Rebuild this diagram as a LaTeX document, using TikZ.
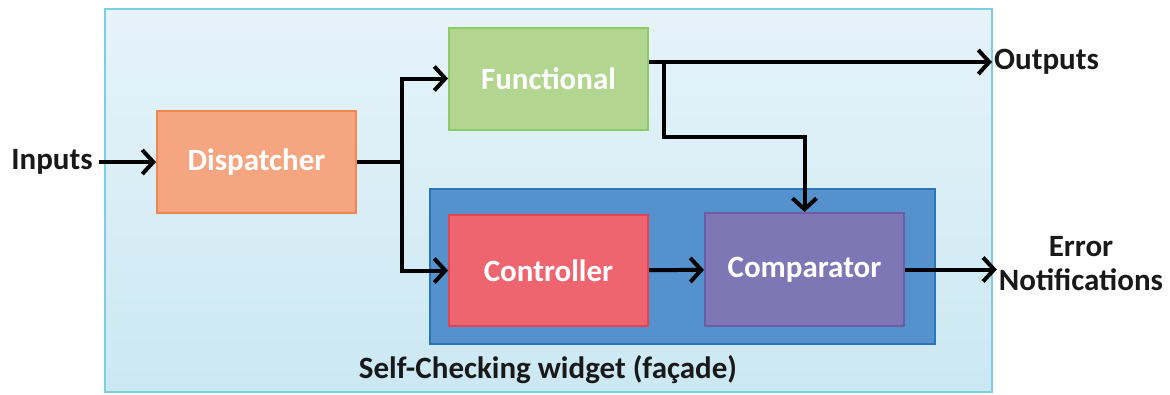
\documentclass[tikz,border=0pt]{standalone}
\usepackage{fontspec}
\setmainfont{Carlito}
\usetikzlibrary{arrows.meta}

\definecolor{frameline}{HTML}{7ACFE0}
\definecolor{frametop}{HTML}{E6F3F9}
\definecolor{framebot}{HTML}{CBE8F3}
\definecolor{checkfill}{HTML}{5591CC}
\definecolor{checkline}{HTML}{2A74B8}
\definecolor{dispfill}{HTML}{F5A680}
\definecolor{displine}{HTML}{F08653}
\definecolor{funcfill}{HTML}{B2D68F}
\definecolor{funcline}{HTML}{8DCB68}
\definecolor{ctrlfill}{HTML}{EE6570}
\definecolor{ctrlline}{HTML}{E14452}
\definecolor{compfill}{HTML}{7F77B5}
\definecolor{compline}{HTML}{6B5CA8}

\tikzset{
  block/.style={rectangle, line width=2pt, text=white, font=\fontsize{31}{36}\selectfont\bfseries,
    minimum width=199pt, minimum height=102pt, inner sep=0pt},
  label/.style={font=\fontsize{31}{36}\selectfont\bfseries, text=black!90, align=center},
  conn/.style={line width=4pt, -{Straight Barb[length=11pt, width=24pt]}},
}

\begin{document}
\begin{tikzpicture}[x=1pt, y=-1pt]
  \useasboundingbox (0,0) rectangle (1170,394);

  \node[rectangle, draw=frameline, line width=1.5pt, top color=frametop, bottom color=framebot,
    minimum width=887pt, minimum height=383pt, inner sep=0pt] (frame) at (548.5,200.5) {};
  \node[rectangle, draw=checkline, fill=checkfill, line width=2pt,
    minimum width=505pt, minimum height=155pt, inner sep=0pt] (checker) at (682.5,266.5) {};

  \node[block, draw=displine, fill=dispfill] (dispatcher) at (256.5,162) {Dispatcher};
  \node[block, draw=funcline, fill=funcfill] (functional) at (548.5,78.5) {Functional};
  \node[block, draw=ctrlline, fill=ctrlfill, minimum height=111pt] (controller) at (548.5,270.5) {Controller};
  \node[block, draw=compline, fill=compfill, minimum height=113pt] (comparator) at (804.5,269.5) {Comparator};

  \node[label, inner sep=6pt] (inputs) at (52,162) {Inputs};
  \node[label, anchor=west, inner sep=2pt] (outputs) at (992,62) {Outputs};
  \node[label, inner sep=2pt] (errors) at (1081,264) {Error\\[-2pt]Notifications};
  \node[label] (caption) at (548,370) {Self-Checking widget (façade)};

  \coordinate (split) at (402,162);
  \coordinate (tap) at (664,62);

  \draw[conn] (inputs.east) -- (dispatcher.west);
  \draw[line width=4pt] (dispatcher.east) -- (split);
  \draw[conn] (split) |- (functional.west);
  \draw[conn] (split) |- (controller.west);
  \draw[conn] (functional.east |- outputs) -- (outputs.west);
  \draw[conn] (tap) -- ++(0,75) -| (comparator.north);
  \draw[conn] (controller) -- (comparator);
  \draw[conn] (comparator.east) -- (comparator.east -| errors.west);
\end{tikzpicture}
\end{document}
